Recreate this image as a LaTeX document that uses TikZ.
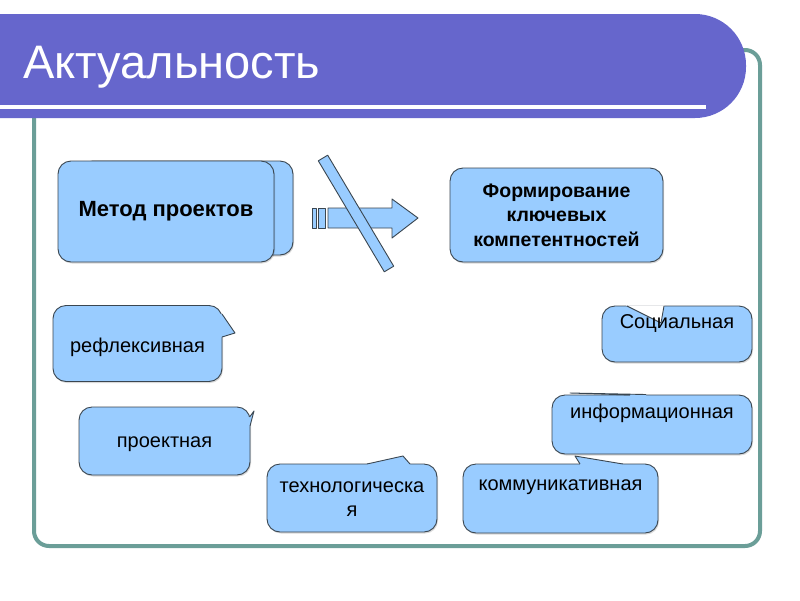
\documentclass[tikz,border=0pt]{standalone}
\usepackage{fontspec}
\setmainfont{Liberation Sans}
\usetikzlibrary{shadows}
\definecolor{bannerc}{HTML}{6666CC}
\definecolor{framec}{HTML}{6B9E98}
\definecolor{boxblue}{HTML}{99CCFF}
\definecolor{edgec}{HTML}{3A4650}
\begin{document}
\begin{tikzpicture}[x=1pt,y=-1pt,
  box/.style={draw=edgec, line width=0.9pt, fill=boxblue, rounded corners=13pt, inner sep=0pt,
    drop shadow={shadow xshift=1pt, shadow yshift=-1.5pt, fill=black, opacity=0.15}},
  lbl/.style={font=\fontsize{20}{24}\selectfont, inner sep=0pt, align=center},
  blbl/.style={font=\bfseries\fontsize{19.5}{24.5}\selectfont, align=center},
  wedgefill/.style={fill=boxblue},
  wedgeline/.style={draw=edgec, line width=0.9pt, line join=round},
  shapeline/.style={draw=edgec, line width=0.9pt, fill=boxblue, line join=round}
]
\useasboundingbox (0,0) rectangle (800,600);
\fill[white] (0,0) rectangle (800,600);
% frame and banner
\draw[framec, line width=4pt, rounded corners=15pt] (34,50) rectangle (760,546);
\fill[bannerc, rounded corners=51pt] (-60,14) rectangle (746,118);
\fill[white] (0,105) rectangle (706,109);
\node[anchor=base west, text=white, font=\fontsize{47}{56}\selectfont, inner sep=0pt] (title) at (23,78) {Актуальность};

% Metod proektov
\node[box, minimum width=213, minimum height=94] (metodback) at (186.5,208) {};
\node[box, blbl, font=\bfseries\fontsize{22}{26}\selectfont, minimum width=216, minimum height=101] (metod) at (166,211.5) {Метод проектов};

% arrow
\draw[shapeline] (312,208) rectangle (316,228);
\draw[shapeline] (318,208) rectangle (325,228);
\draw[shapeline] (328,208) -- (392,208) -- (392,199) -- (418,218) -- (392,238) -- (392,228) -- (328,228) -- cycle;
\draw[shapeline] (327.7,155.2) -- (393.7,266.2) -- (384.3,271.8) -- (318.3,160.8) -- cycle;

% Formirovanie
\node[box, blbl, minimum width=213, minimum height=94] (form) at (556.5,215) {Формирование\\ключевых\\компетентностей};

% refleksivnaya
\node[box, minimum width=169, minimum height=76] (refl) at (137.5,343.5) {};
\fill[wedgefill] (219,314) -- (222,314) -- (235,333) -- (222,337) -- (219,337) -- cycle;
\draw[wedgeline] (222,314) -- (235,333) -- (222,337);
\node[lbl, anchor=base] (reflT) at (137.5,352) {рефлексивная};

% proektnaya
\node[box, minimum width=171, minimum height=68] (proekt) at (164.5,441) {};
\fill[wedgefill] (247,417) -- (249.6,417) -- (254,411) -- (250,426) -- (247,426) -- cycle;
\draw[wedgeline] (249.6,417) -- (254,411) -- (250,426);
\node[lbl, anchor=base] (proektT) at (164.5,447) {проектная};

% tehnologicheskaya
\node[box, minimum width=170, minimum height=68] (tehno) at (352,498) {};
\fill[wedgefill] (367,467) -- (367,464) -- (403,456) -- (410,464) -- (410,467) -- cycle;
\draw[wedgeline] (367,464) -- (403,456) -- (410,464);
\node[lbl] (tehnoT) at (352,499) {технологическа\\я};

% informacionnaya
\node[box, minimum width=200, minimum height=59] (inform) at (652,424.5) {};
\fill[wedgefill] (630,397) -- (630,395) -- (570,393) -- (646,394.5) -- (646,397) -- cycle;
\draw[wedgeline] (630,395) -- (570,393) -- (646,394.5);
\node[lbl, anchor=base] (informT) at (652,418) {информационная};

% kommunikativnaya
\node[box, minimum width=195, minimum height=69] (kommun) at (560.5,498.5) {};
\fill[wedgefill] (580,467) -- (580,464) -- (575,456) -- (623,464) -- (623,467) -- cycle;
\draw[wedgeline] (580,464) -- (575,456) -- (623,464);
\node[lbl, anchor=base] (kommunT) at (560.5,490) {коммуникативная};

% socialnaya
\node[box, minimum width=150, minimum height=56] (social) at (677,334) {};
\fill[white] (626,305.4) -- (661,323.5) -- (664.3,305.4) -- cycle;
\draw[wedgeline] (627,306) -- (661,323) -- (664,306);
\node[lbl, anchor=base] (socialT) at (677,328) {Социальная};
\end{tikzpicture}
\end{document}
